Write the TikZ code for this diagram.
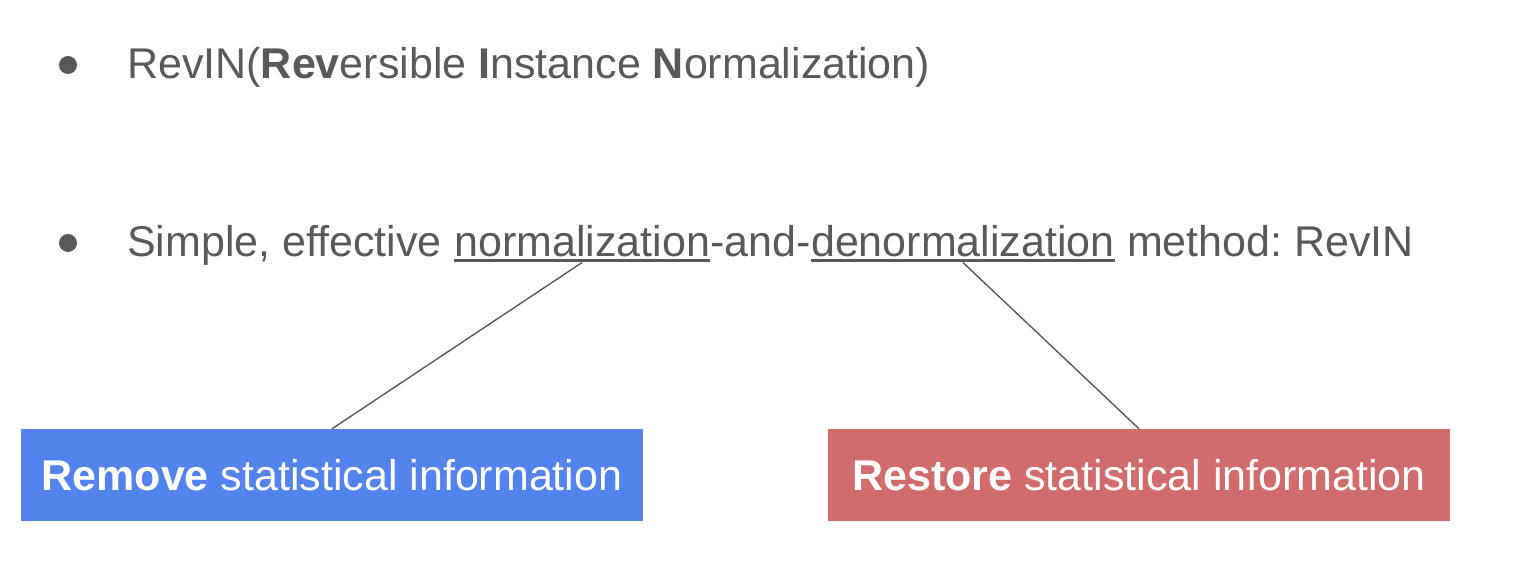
\documentclass[tikz,border=0pt]{standalone}
\usepackage{fontspec}
\setmainfont{Liberation Sans}
\frenchspacing
\definecolor{txtgray}{HTML}{595959}
\definecolor{remblue}{HTML}{5383EC}
\definecolor{resred}{HTML}{D16C6C}
\begin{document}
\begin{tikzpicture}
[x=1pt,y=-1pt,
bul/.style={circle,fill=txtgray,minimum size=18pt,inner sep=0pt},
txt/.style={inner sep=0pt,text=txtgray,font=\fontsize{43pt}{50pt}\selectfont},
box/.style={minimum width=622pt,minimum height=92pt,inner sep=0pt,text=white,
  font=\fontsize{43pt}{50pt}\selectfont},
link/.style={draw=txtgray,line width=1.4pt},
ul/.style={draw=txtgray,line width=3pt}]
\useasboundingbox (0,0) rectangle (1524,564);
\node[bul] (b1) at (68,65) {};
\node[bul] (b2) at (68,243) {};
\node[txt,anchor=base west] (title) at (127,79)
  {RevIN(\textbf{Rev}ersible \textbf{I}nstance \textbf{N}ormalization)};
\node[txt,anchor=base west] (s1) at (127,257) {Simple, effective\ \null};
\node[txt,anchor=base west] (norm) at (s1.base east) {normalization};
\node[txt,anchor=base west] (and) at (norm.base east) {-and-};
\node[txt,anchor=base west] (denorm) at (and.base east) {denormalization};
\node[txt,anchor=base west] (meth) at (denorm.base east) {\null\ method: RevIN};
\draw[ul] ([yshift=-4pt]norm.base west) -- ([yshift=-4pt]norm.base east);
\draw[ul] ([yshift=-4pt]denorm.base west) -- ([yshift=-4pt]denorm.base east);
\coordinate (nu) at ([yshift=-5.5pt]norm.base);
\coordinate (du) at ([yshift=-5.5pt]denorm.base);
\node[box,fill=remblue] (rem) at (332,475) {\textbf{Remove} statistical information};
\node[box,fill=resred] (res) at (1139,475) {\textbf{Restore} statistical information};
\draw[link] (nu) -- (rem.north);
\draw[link] (du) -- (res.north);
\end{tikzpicture}
\end{document}
